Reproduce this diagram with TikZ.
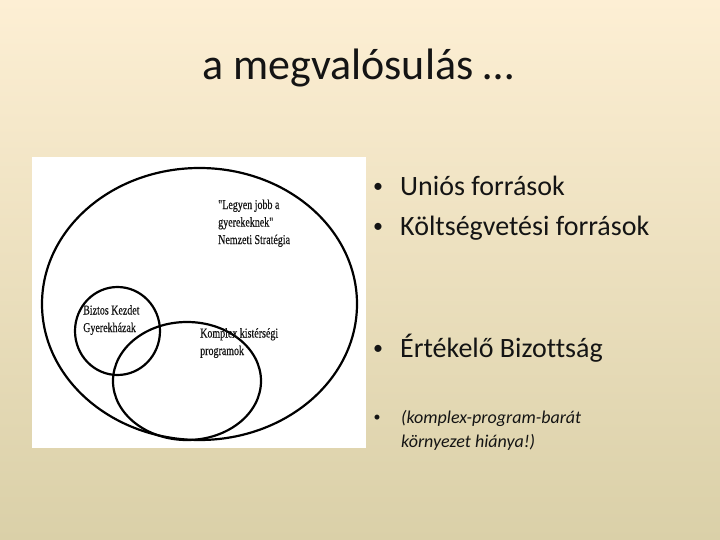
\documentclass[tikz,border=0pt]{standalone}
\usepackage{fontspec}
\setmainfont{Carlito}[Ligatures=NoCommon]
\newfontfamily\vennfont[FakeStretch=0.74, FakeBold=0.4]{Liberation Serif}
\usetikzlibrary{positioning}
\definecolor{slidetop}{HTML}{FDEFD4}
\definecolor{slidebottom}{HTML}{DAD0A8}
\definecolor{inktext}{HTML}{141414}

\begin{document}
\begin{tikzpicture}[x=1pt, y=-1pt,
    vennlabel/.style={anchor=base west, align=left, inner sep=0pt, text=inktext,
        font=\vennfont\fontsize{13.5}{17.5}\selectfont},
    bullettext/.style={anchor=base west, inner sep=0pt, text=inktext,
        font=\fontsize{28}{34}\selectfont},
    smalltext/.style={anchor=base west, inner sep=0pt, text=inktext,
        font=\fontsize{18}{24}\selectfont\itshape},
    dot/.style={anchor=base, inner sep=0pt, text=inktext}]
    \useasboundingbox (0,0) rectangle (720,540);
    \shade[top color=slidetop, bottom color=slidebottom] (0,0) rectangle (720,540);

    \node[anchor=base, inner sep=0pt, text=inktext, font=\fontsize{44}{50}\selectfont] (title) at (358,80) {a megvalósulás …};

    % the picture
    \fill[white] (32,157) rectangle (366,448);
    \draw[line width=2.2pt] (199.5,304) ellipse [x radius=157.5, y radius=136];
    \draw[line width=2.2pt] (117.5,331) ellipse [x radius=42.5, y radius=44];
    \draw[line width=2.2pt] (187,381) ellipse [x radius=74, y radius=59];

    % base = last line
    \node[vennlabel] (strategia) at (218,244) {"Legyen jobb a\\gyerekeknek"\\Nemzeti Stratégia};
    \node[vennlabel] (biztos) at (83,332) {Biztos Kezdet\\Gyerekházak};
    \node[vennlabel] (komplex) at (200,355) {Komplex kistérségi\\programok};

    % bullets
    \foreach \n/\y/\txt in {unio/196/Uniós források, koltseg/236/Költségvetési források, ertek/357/Értékelő Bizottság} {
        \node[bullettext] (\n) at (400,\y) {\txt};
        \node[dot, font=\fontsize{20}{24}\selectfont] (\n-dot) at (378,\y-3) {•};
    }
    \node[smalltext] (hiany1) at (401,423) {(komplex-program-barát};
    \node[smalltext] (hiany2) at (401,447) {környezet hiánya!)};
    \node[dot, font=\fontsize{14}{18}\selectfont] (hiany-dot) at (377,421) {•};
\end{tikzpicture}
\end{document}
